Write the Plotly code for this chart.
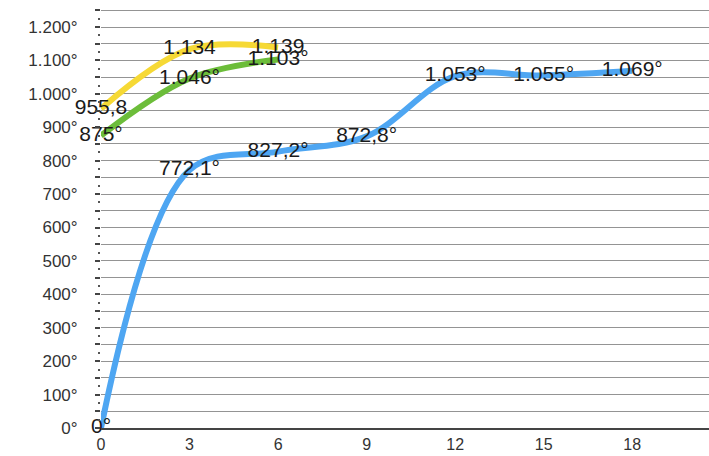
import plotly.graph_objects as go

# Hours on the x axis, temperature in degrees on the y axis
blue_x = [0, 3, 6, 9, 12, 15, 18]
blue_y = [0, 772.1, 827.2, 872.8, 1053, 1055, 1069]
blue_labels = ["0°", "772,1°", "827,2°", "872,8°", "1.053°", "1.055°", "1.069°"]

yellow_x = [0, 3, 6]
yellow_y = [955.8, 1134, 1139]
yellow_labels = ["955,8", "1.134", "1.139"]

green_x = [0, 3, 6]
green_y = [875, 1046, 1103]
green_labels = ["875°", "1.046°", "1.103°"]

x_ticks = [0, 3, 6, 9, 12, 15, 18]
y_ticks = list(range(0, 1251, 50))
y_tick_text = [("{:,}".format(v).replace(",", ".") + "°") if v % 100 == 0 and v <= 1200 else "" for v in y_ticks]

label_font = dict(family="Liberation Sans, Arial, sans-serif", size=21, color="#1a1a1a")

fig = go.Figure()


def add_series(xs, ys, labels, color):
    fig.add_trace(go.Scatter(
        x=xs, y=ys, text=labels,
        mode="lines+text",
        line=dict(color=color, width=6, shape="spline", smoothing=1.0),
        textposition="middle center",
        textfont=label_font,
        cliponaxis=False,
        hoverinfo="skip",
        showlegend=False,
    ))


add_series(yellow_x, yellow_y, yellow_labels, "#f6d935")
add_series(green_x, green_y, green_labels, "#6cbd3a")
add_series(blue_x, blue_y, blue_labels, "#4ea6f2")

fig.update_layout(
    width=709, height=456,
    margin=dict(l=101, r=0, t=8, b=28),
    paper_bgcolor="white", plot_bgcolor="white",
    font=dict(family="Liberation Sans, Arial, sans-serif", color="#333333"),
    xaxis=dict(
        range=[0, 20.6],
        tickvals=x_ticks,
        ticktext=[str(v) for v in x_ticks],
        tickfont=dict(size=16, color="#333333"),
        showgrid=False, zeroline=False,
        showline=True, linecolor="#444444", linewidth=2,
        ticks="", ticklabelstandoff=1,
    ),
    yaxis=dict(
        range=[0, 1257],
        tickvals=y_ticks,
        ticktext=y_tick_text,
        tickfont=dict(size=17, color="#333333"),
        showgrid=True, gridcolor="#949494", gridwidth=1,
        zeroline=False, showline=False,
        ticks="outside", ticklen=5, tickwidth=2, tickcolor="#444444",
        minor=dict(dtick=25, ticks="outside", ticklen=2, tickwidth=2,
                   tickcolor="#555555", showgrid=False),
        ticklabelstandoff=14,
    ),
)

fig.write_html("out.html")
